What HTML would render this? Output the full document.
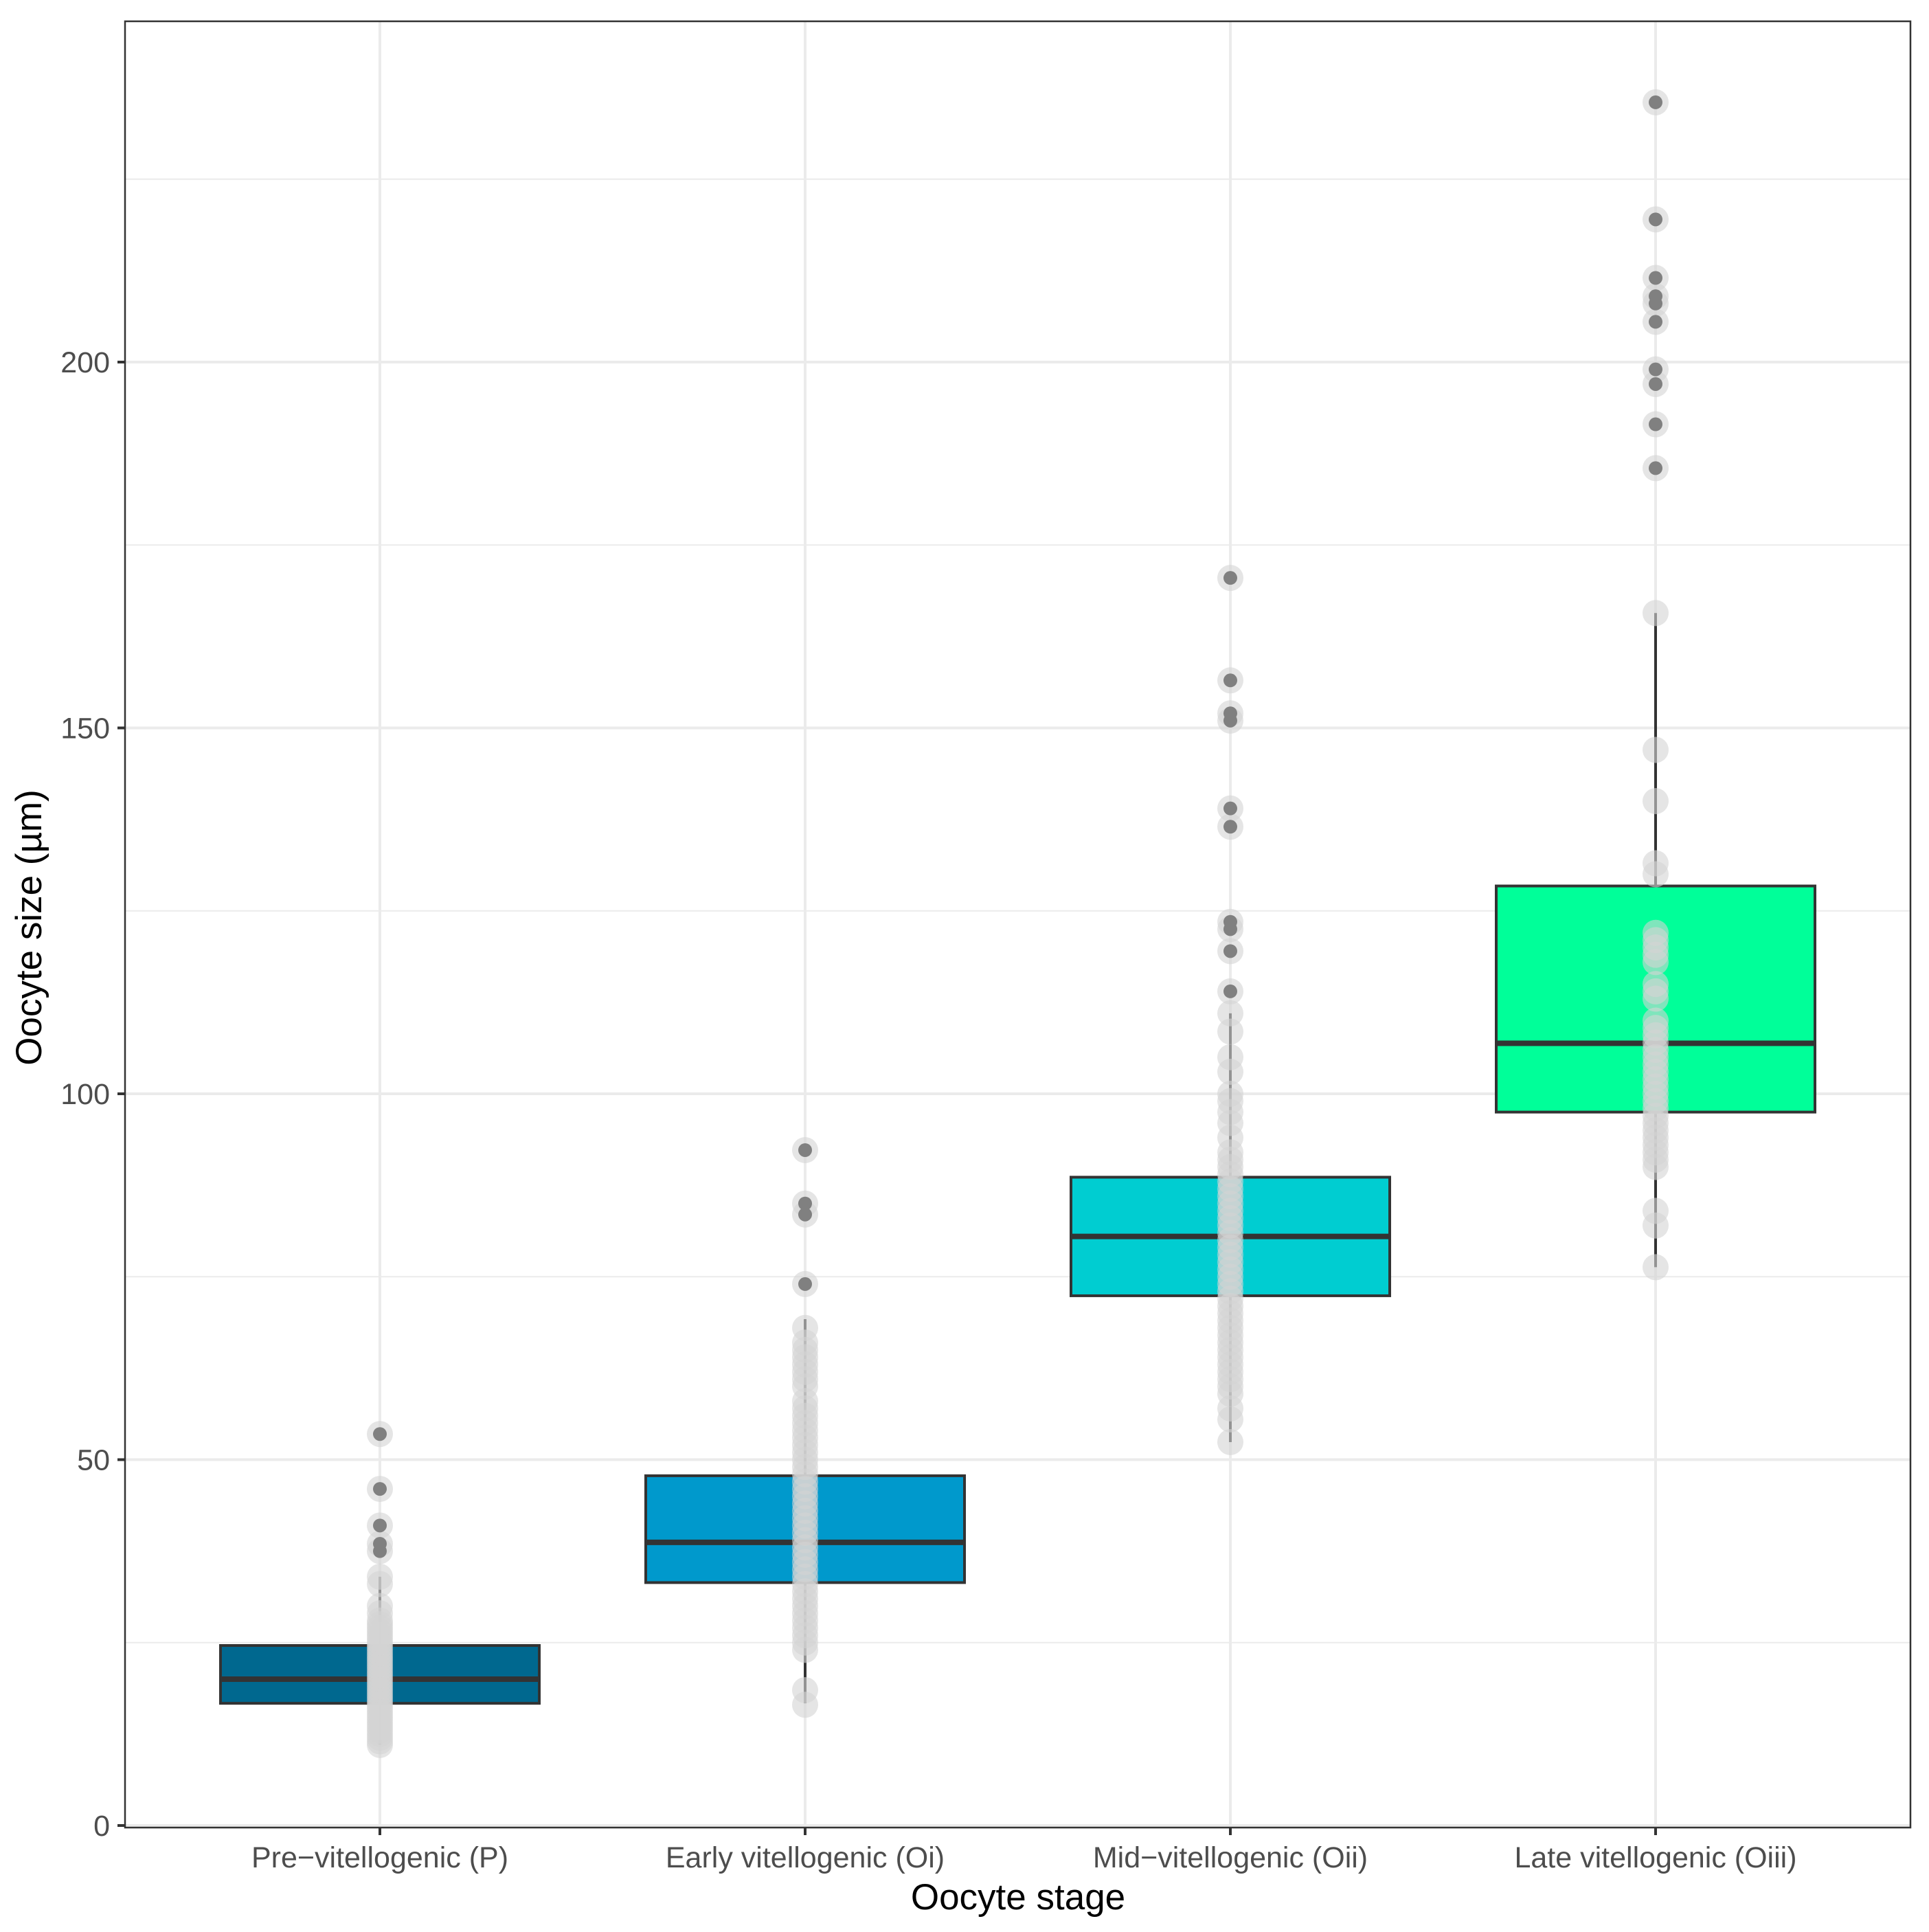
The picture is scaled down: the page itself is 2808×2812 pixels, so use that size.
<!DOCTYPE html>
<html><head><meta charset="utf-8"><style>
html,body{margin:0;padding:0;background:#fff}
svg{display:block}
text{font-family:"Liberation Sans",Arial,sans-serif}
</style></head><body>
<svg id="chart" width="2808" height="2812" viewBox="0 0 2808 2812" xmlns="http://www.w3.org/2000/svg">
<rect width="2808" height="2812" fill="#fff"/>
<g id="grid"></g><g id="boxes"></g><g id="points"></g><g id="outl"></g><g id="axes"></g>
</svg>
<script>
const categories = ["Pre\u2212vitellogenic (P)","Early vitellogenic (Oi)","Mid\u2212vitellogenic (Oii)","Late vitellogenic (Oiii)"];
const fills = ["#00688F","#0099CC","#00CDD1","#00FF99"];
const q1 = [16.7, 33.2, 72.4, 97.5];
const medians = [20.0, 38.7, 80.5, 106.9];
const q3 = [24.6, 47.8, 88.6, 128.4];
const whiskLow = [11.0, 16.7, 52.4, 76.3];
const whiskHigh = [34.0, 69.2, 111.0, 165.7];
const outliersP = [37.5, 38.5, 41, 46, 53.5];
const outliersOi = [74, 83.5, 85, 92.3];
const outliersOii = [114, 119.5, 122.5, 123.5, 136.5, 139, 151, 152, 156.5, 170.5];
const outliersOiii = [185.5, 191.5, 197, 199, 205.5, 208, 209, 211.5, 219.5, 235.5];
const pointsP = [11,11.5,12,12.5,13,13.5,14,14.5,15,15.5,16,16.5,17,17.5,18,18.5,19,19.5,20,20.5,21,21.5,22,22.5,23,23.5,24,24.5,25,25.5,26,26.5,27,27.5,28,29,30,33,34,37.5,38.5,41,46,53.5];
const pointsOi = [16.5,18.5,24,25,26,27,28,29,30,31,32,33,34,35,36,37,38,39,40,41,42,43,44,45,46,47,48,49,50,51,52,53,54,55,56,57,58,60,61,62,63,64,65,66,68,74,83.5,85,92.3];
const pointsOii = [52.4,55.5,57,59,60,61,62,63,64,65,66,67,68,69,70,71,72,73,74,75,76,77,78,79,80,81,82,83,84,85,86,87,88,89,90,91,92,94,96,97.5,99,100,103,105,108.5,111,114,119.5,122.5,123.5,136.5,139,151,152,156.5,170.5];
const pointsOiii = [76.3,82,84,90,91,92,93,94,95,96,97,98,99,100,101,102,103,104,105,106,107,108,109,110,113,114,115,118,119,120,121,122,130,131.5,140,147,165.7,185.5,191.5,197,199,205.5,208,209,211.5,219.5,235.5];
const outliers = [outliersP, outliersOi, outliersOii, outliersOiii];
const points = [pointsP, pointsOi, pointsOii, pointsOiii];
const majorTicks = [0,50,100,150,200];
const minorTicks = [25,75,125,175,225];

const NS="http://www.w3.org/2000/svg";
const L=182,R=2781,T=31,B=2660;
const y=v=>2657-v*10.65;
const x=i=>553+i*619;
const HW=232;
function mk(tag,attrs,parent){const e=document.createElementNS(NS,tag);for(const k in attrs)e.setAttribute(k,attrs[k]);parent.appendChild(e);return e;}
const grid=document.getElementById('grid'),boxes=document.getElementById('boxes'),pts=document.getElementById('points'),outl=document.getElementById('outl'),axes=document.getElementById('axes');
minorTicks.forEach(v=>{const l=mk('line',{x1:L,x2:R,y1:y(v),y2:y(v),stroke:'#ebebeb','stroke-width':2},grid);

});
majorTicks.forEach(v=>{const l=mk('line',{x1:L,x2:R,y1:y(v),y2:y(v),stroke:'#ebebeb','stroke-width':4},grid);

});
categories.forEach((c,i)=>{const l=mk('line',{x1:x(i),x2:x(i),y1:T,y2:B,stroke:'#ebebeb','stroke-width':4},grid);

});
categories.forEach((c,i)=>{
 const g=mk('g',{},boxes);
 
 
 mk('line',{x1:x(i),x2:x(i),y1:y(whiskHigh[i]),y2:y(q3[i]),stroke:'#333','stroke-width':4},g);
 mk('line',{x1:x(i),x2:x(i),y1:y(q1[i]),y2:y(whiskLow[i]),stroke:'#333','stroke-width':4},g);
 mk('rect',{x:x(i)-HW,y:y(q3[i]),width:2*HW,height:y(q1[i])-y(q3[i]),fill:fills[i],stroke:'#333','stroke-width':4},g);
 mk('line',{x1:x(i)-HW,x2:x(i)+HW,y1:y(medians[i]),y2:y(medians[i]),stroke:'#333','stroke-width':8},g);
});
categories.forEach((c,i)=>{points[i].forEach(v=>{const p=mk('circle',{cx:x(i),cy:y(v),r:19,fill:'#d3d3d3','fill-opacity':0.6},pts);

});});
categories.forEach((c,i)=>{outliers[i].forEach(v=>{const c2=mk('circle',{cx:x(i),cy:y(v),r:10,fill:'#808080'},outl);

});});
const frame=mk('rect',{x:L,y:T,width:R-L,height:B-T,fill:'none',stroke:'#333','stroke-width':2.5},axes);


majorTicks.forEach(v=>{mk('line',{x1:171,x2:182,y1:y(v),y2:y(v),stroke:'#333','stroke-width':4},axes);
const t=mk('text',{x:160,y:y(v)+15,'text-anchor':'end','font-size':43,fill:'#4d4d4d'},axes);t.textContent=v;

});
categories.forEach((c,i)=>{mk('line',{x1:x(i),x2:x(i),y1:B,y2:B+11,stroke:'#333','stroke-width':4},axes);
const t=mk('text',{x:x(i),y:2718,'text-anchor':'middle','font-size':43,fill:'#4d4d4d'},axes);t.textContent=c;

});
const xt=mk('text',{x:1482,y:2779,'text-anchor':'middle','font-size':53,fill:'#000'},axes);xt.textContent='Oocyte stage';


const yt=mk('text',{x:0,y:0,'text-anchor':'middle','font-size':53,fill:'#000',transform:'translate(60,1350) rotate(-90)'},axes);yt.textContent='Oocyte size (\u00b5m)';


</script>
</body></html>
